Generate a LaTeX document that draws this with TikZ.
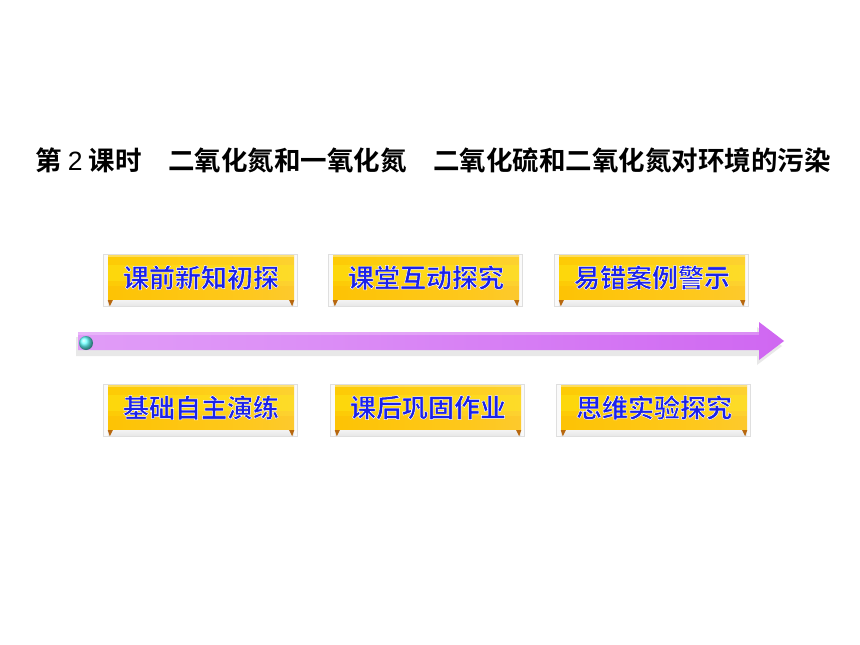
\documentclass[tikz,border=0pt]{standalone}
\usepackage{fontspec}
\newfontfamily\cjk{Noto Sans CJK SC Bold}[FakeBold=1.8]
\newfontfamily\cjkb{Noto Sans CJK SC Bold}
\newfontfamily\latinsans{Liberation Sans}
\definecolor{goldA}{HTML}{E29200}
\definecolor{goldB}{HTML}{F4B200}
\definecolor{goldC}{HTML}{FDCA00}
\definecolor{goldD}{HTML}{FED020}
\definecolor{goldE}{HTML}{F6D680}
\definecolor{btnblue}{HTML}{1C22E8}
\definecolor{violA}{HTML}{E8B0FA}
\definecolor{violB}{HTML}{DC90F6}
\definecolor{violC}{HTML}{C64AEE}
\definecolor{tabbrown}{HTML}{B8680E}
\pgfdeclarehorizontalshading{goldshade}{100bp}{color(0bp)=(goldA); color(5bp)=(goldB); color(18bp)=(goldC); color(62bp)=(goldD); color(88bp)=(goldD!65!goldE); color(100bp)=(goldE)}
\pgfdeclarehorizontalshading{violshade}{100bp}{color(0bp)=(violA); color(40bp)=(violB); color(100bp)=(violC)}
\pgfdeclareverticalshading{stripshade}{100bp}{color(0bp)=(gray!22); color(100bp)=(gray!6)}
\newcommand\whitestroke{\special{pdf:code 1 1 1 RG}}
\tikzset{
  btnface/.style={shading=goldshade, minimum width=186pt, minimum height=45pt, inner sep=0pt},
  btnlabel/.style={text=btnblue, font=\cjk\fontsize{26}{26}\selectfont, inner sep=0pt},
  btnframe/.style={fill=gray!4, draw=gray!25, line width=0.6pt},
  btnstrip/.style={shading=stripshade},
  btntab/.style={fill=tabbrown},
  titletext/.style={font=\cjkb\fontsize{26.5}{27}\selectfont, text=black, inner sep=0pt}
}
\newcommand\mkbtn[4]{%
  \draw[btnframe] (#2-98,#3-23.5) rectangle (#2+96,#3+28.5);
  \node[btnface] (#1) at (#2,#3) {};
  \shade[btnstrip] (#1.south west) rectangle ([yshift=-5.5pt]#1.south east);
  \fill[white, opacity=0.35] (#1.north west) rectangle ([yshift=-2.5pt]#1.north east);
  \fill[yellow!90!white, opacity=0.30] ([yshift=-10pt]#1.north west) rectangle ([yshift=-26pt]#1.north east);
  \fill[orange!85!red, opacity=0.08] ([yshift=14pt]#1.south west) rectangle (#1.south east);
  \node[btnlabel] at (#1.center) {\whitestroke #4};
  \fill[btntab] (#1.south west) -- ++(5,0) -- ++(-3,6) -- cycle;
  \fill[btntab] (#1.south east) -- ++(-5,0) -- ++(3,6) -- cycle;
}
\begin{document}
\begin{tikzpicture}[x=1pt,y=-1pt]
\useasboundingbox (0,0) rectangle (860,645);
\fill[white] (0,0) rectangle (860,645);
% title
\node[titletext] (title) at (433,160) {第 {\latinsans 2} 课时\hspace{1em}二氧化氮和一氧化氮\hspace{1em}二氧化硫和二氧化氮对环境的污染};
% buttons
\mkbtn{b1}{201}{277.5}{课前新知初探}
\mkbtn{b2}{426}{277.5}{课堂互动探究}
\mkbtn{b3}{652}{277.5}{易错案例警示}
\mkbtn{b4}{201}{407.5}{基础自主演练}
\mkbtn{b5}{428}{407.5}{课后巩固作业}
\mkbtn{b6}{654}{407.5}{思维实验探究}
% arrow shadow
\fill[gray!18] (76,337) -- (757,337) -- (757,327) -- (782,346) -- (757,365) -- (757,356) -- (76,356) -- cycle;
% arrow
\shade[shading=violshade] (78,332) -- (759,332) -- (759,322) -- (784,341) -- (759,360) -- (759,350) -- (78,350) -- cycle;
\fill[white, opacity=0.25] (78,332) rectangle (759,335);
% ball
\shade[ball color=cyan!60!white] (86,343) circle (7);
\end{tikzpicture}
\end{document}
